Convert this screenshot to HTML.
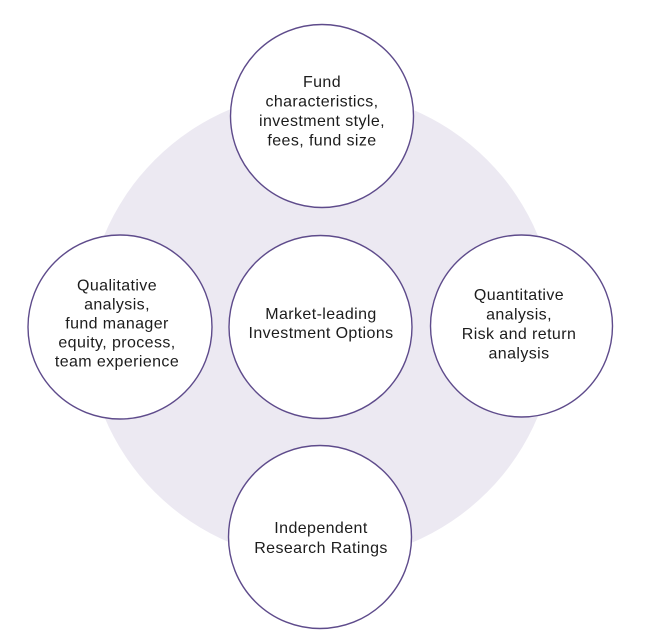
<!DOCTYPE html>
<html>
<head>
<meta charset="utf-8">
<style>
html,body{margin:0;padding:0;background:#fff;}
svg{display:block;}
text{font-family:"Liberation Sans",Arial,sans-serif;font-size:16px;fill:#1c1c1c;letter-spacing:0.4px;text-anchor:middle;}
</style>
</head>
<body>
<svg width="661" height="643" viewBox="0 0 661 643" xmlns="http://www.w3.org/2000/svg">
  <rect width="661" height="643" fill="#ffffff"/>
  <circle cx="321" cy="326" r="235" fill="#ECE9F2"/>
  <g fill="#ffffff" stroke="#5E4B8B" stroke-width="1.4">
    <circle cx="322" cy="116" r="91.5"/>
    <circle cx="120" cy="327" r="92"/>
    <circle cx="320.5" cy="327" r="91.5"/>
    <circle cx="521.5" cy="326" r="91"/>
    <circle cx="320" cy="537" r="91.5"/>
  </g>
  <!-- top -->
  <text x="322" y="87">Fund</text>
  <text x="322" y="106.5">characteristics,</text>
  <text x="322" y="126">investment style,</text>
  <text x="322" y="145.5">fees, fund size</text>
  <!-- left -->
  <text x="117" y="290.5">Qualitative</text>
  <text x="117" y="309.5">analysis,</text>
  <text x="117" y="328.5">fund manager</text>
  <text x="117" y="347.5">equity, process,</text>
  <text x="117" y="366.5">team experience</text>
  <!-- center -->
  <text x="321" y="319">Market-leading</text>
  <text x="321" y="338">Investment Options</text>
  <!-- right -->
  <text x="519" y="300">Quantitative</text>
  <text x="519" y="319.5">analysis,</text>
  <text x="519" y="339">Risk and return</text>
  <text x="519" y="358.5">analysis</text>
  <!-- bottom -->
  <text x="321" y="533">Independent</text>
  <text x="321" y="553">Research Ratings</text>
</svg>
</body>
</html>
